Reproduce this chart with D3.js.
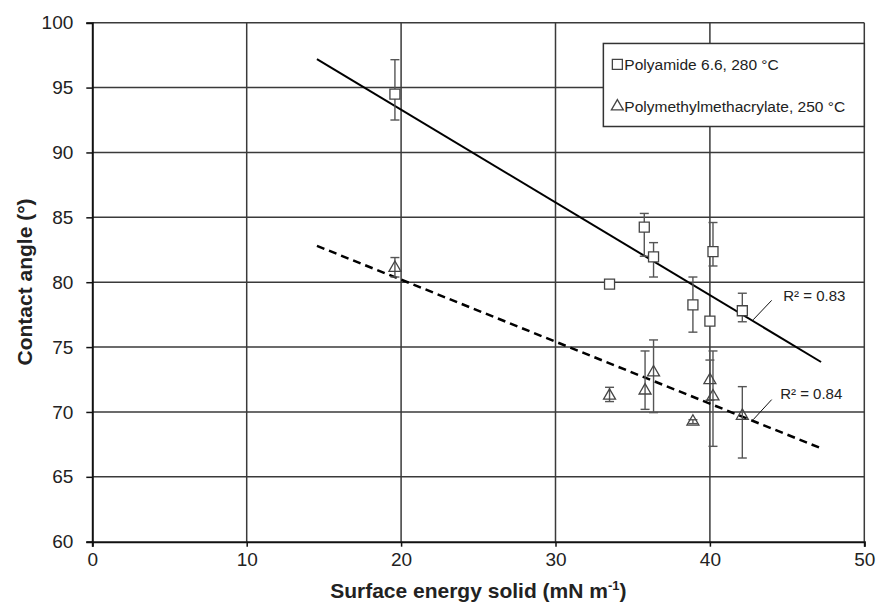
<!DOCTYPE html>
<html>
<head>
<meta charset="utf-8">
<script src="https://cdn.jsdelivr.net/npm/d3@7"></script>
<style>
  html, body { margin: 0; padding: 0; background: #fff; }
  svg { display: block; font-family: "Liberation Sans", Arial, sans-serif; }
</style>
</head>
<body>
<svg id="chart" width="878" height="606"></svg>
<script>
// --- data ---
const paX   = [19.6, 33.5, 35.75, 36.35, 38.9, 40.0, 40.2, 42.1];
const paY   = [94.5, 79.85, 84.25, 81.95, 78.25, 77.0, 82.35, 77.8];
const paHi  = [97.15, 80.05, 85.3, 83.05, 80.4, 77.2, 84.6, 79.15];
const paLo  = [92.5, 79.65, 82.0, 80.4, 76.15, 76.8, 81.25, 76.95];

const pmX   = [19.6, 33.5, 35.8, 36.35, 38.9, 40.0, 40.2, 42.1];
const pmY   = [81.1, 71.25, 71.65, 73.05, 69.25, 72.45, 71.2, 69.7];
const pmHi  = [81.9, 71.9, 74.7, 75.55, 69.4, 74.0, 74.7, 71.95];
const pmLo  = [80.4, 70.8, 70.2, 69.95, 69.1, 70.9, 67.35, 66.45];

const paTrend = [[14.55, 97.2], [47.2, 73.85]];
const pmTrend = [[14.55, 82.8], [47.2, 67.2]];

const r2Labels = ["R² = 0.83", "R² = 0.84"];
const r2Text   = [[44.75, 78.55], [44.55, 71.0]];
const r2Leader = [[[42.8, 77.1], [44.0, 78.6]], [[42.8, 69.4], [44.0, 70.95]]];

const legendLabels = ["Polyamide 6.6, 280 °C", "Polymethylmethacrylate, 250 °C"];
const xTicks = [0, 10, 20, 30, 40, 50];
const yTicks = [60, 65, 70, 75, 80, 85, 90, 95, 100];

// --- layout ---
const svg = d3.select("#chart");
const m = { top: 22.7, left: 92.3, right: 13.7, bottom: 64.3 };
const W = 878 - m.left - m.right, H = 606 - m.top - m.bottom;
const g = svg.append("g").attr("transform", `translate(${m.left},${m.top})`);

const x = d3.scaleLinear().domain([0, 50]).range([0, W]);
const y = d3.scaleLinear().domain([60, 100]).range([H, 0]);

// grid
g.append("g").selectAll("line").data(yTicks.slice(1)).join("line")
  .attr("x1", 0).attr("x2", W).attr("y1", d => y(d)).attr("y2", d => y(d))
  .attr("stroke", "#3a3a3a").attr("stroke-width", 1.5);
g.append("g").selectAll("line").data(xTicks.slice(1)).join("line")
  .attr("x1", d => x(d)).attr("x2", d => x(d)).attr("y1", 0).attr("y2", H)
  .attr("stroke", "#3a3a3a").attr("stroke-width", 1.5);

// axes
const ax = g.append("g").attr("transform", `translate(0,${H})`)
  .call(d3.axisBottom(x).tickValues(xTicks).tickSize(5).tickPadding(6));
const ay = g.append("g")
  .call(d3.axisLeft(y).tickValues(yTicks).tickSize(6).tickPadding(13));
[ax, ay].forEach(a => {
  a.select(".domain").attr("stroke", "#111").attr("stroke-width", 2);
  a.selectAll(".tick line").attr("stroke", "#111").attr("stroke-width", 1.5);
  a.selectAll("text").attr("fill", "#222").style("font-size", "19px")
    .style("font-family", "Liberation Sans, Arial, sans-serif");
});

// trend lines
const line = d3.line().x(d => x(d[0])).y(d => y(d[1]));
g.append("path").attr("d", line(paTrend)).attr("fill", "none")
  .attr("stroke", "#000").attr("stroke-width", 2);
g.append("path").attr("d", line(pmTrend)).attr("fill", "none")
  .attr("stroke", "#000").attr("stroke-width", 2.5).attr("stroke-dasharray", "8 5");

// error bars
function errBars(xs, hi, lo) {
  const eb = g.append("g").attr("stroke", "#555").attr("stroke-width", 1.4);
  xs.forEach((v, i) => {
    eb.append("line").attr("x1", x(v)).attr("x2", x(v)).attr("y1", y(hi[i])).attr("y2", y(lo[i]));
    [hi[i], lo[i]].forEach(e => eb.append("line")
      .attr("x1", x(v) - 4.5).attr("x2", x(v) + 4.5).attr("y1", y(e)).attr("y2", y(e)));
  });
}
errBars(paX, paHi, paLo);
errBars(pmX, pmHi, pmLo);

// markers
const sq = d3.symbol().type(d3.symbolSquare).size(100);
const tri = d3.symbol().type(d3.symbolTriangle).size(62);
g.append("g").selectAll("path").data(paX).join("path")
  .attr("d", sq).attr("transform", (d, i) => `translate(${x(d)},${y(paY[i])})`)
  .attr("fill", "#fff").attr("stroke", "#444").attr("stroke-width", 1.3);
g.append("g").selectAll("path").data(pmX).join("path")
  .attr("d", tri).attr("transform", (d, i) => `translate(${x(d)},${y(pmY[i])})`)
  .attr("fill", "none").attr("stroke", "#444").attr("stroke-width", 1.3);

// R² labels with leader lines
r2Labels.forEach((t, i) => {
  g.append("line")
    .attr("x1", x(r2Leader[i][0][0])).attr("y1", y(r2Leader[i][0][1]))
    .attr("x2", x(r2Leader[i][1][0])).attr("y2", y(r2Leader[i][1][1]))
    .attr("stroke", "#111").attr("stroke-width", 1);
  g.append("text").attr("x", x(r2Text[i][0])).attr("y", y(r2Text[i][1]))
    .attr("fill", "#222").style("font-size", "15px").text(t);
});

// legend
const lg = g.append("g").attr("transform", `translate(${x(33.1)},${y(98.4)})`);
const lgW = x(50) - x(33.1), lgH = y(92) - y(98.4);
lg.append("rect").attr("width", lgW).attr("height", lgH)
  .attr("fill", "#fff").attr("stroke", "#333").attr("stroke-width", 1.5);
legendLabels.forEach((t, i) => {
  const cy = 21 + i * 42;
  lg.append("path").attr("d", i === 0 ? sq : tri)
    .attr("transform", `translate(14,${cy})`)
    .attr("fill", "#fff").attr("stroke", "#444").attr("stroke-width", 1.3);
  lg.append("text").attr("x", 21).attr("y", cy + 5.5)
    .attr("fill", "#222").style("font-size", "15.5px").text(t);
});

// axis titles
svg.append("text").attr("transform", "translate(32,282) rotate(-90)")
  .attr("text-anchor", "middle").attr("fill", "#222")
  .style("font-size", "21px").style("font-weight", "bold").text("Contact angle (°)");
const xt = svg.append("text").attr("x", m.left + W / 2).attr("y", 598)
  .attr("text-anchor", "middle").attr("fill", "#222")
  .style("font-size", "21px").style("font-weight", "bold");
xt.append("tspan").text("Surface energy solid (mN m");
xt.append("tspan").attr("dy", -8).style("font-size", "13px").text("-1");
xt.append("tspan").attr("dy", 8).text(")");
</script>
</body>
</html>
